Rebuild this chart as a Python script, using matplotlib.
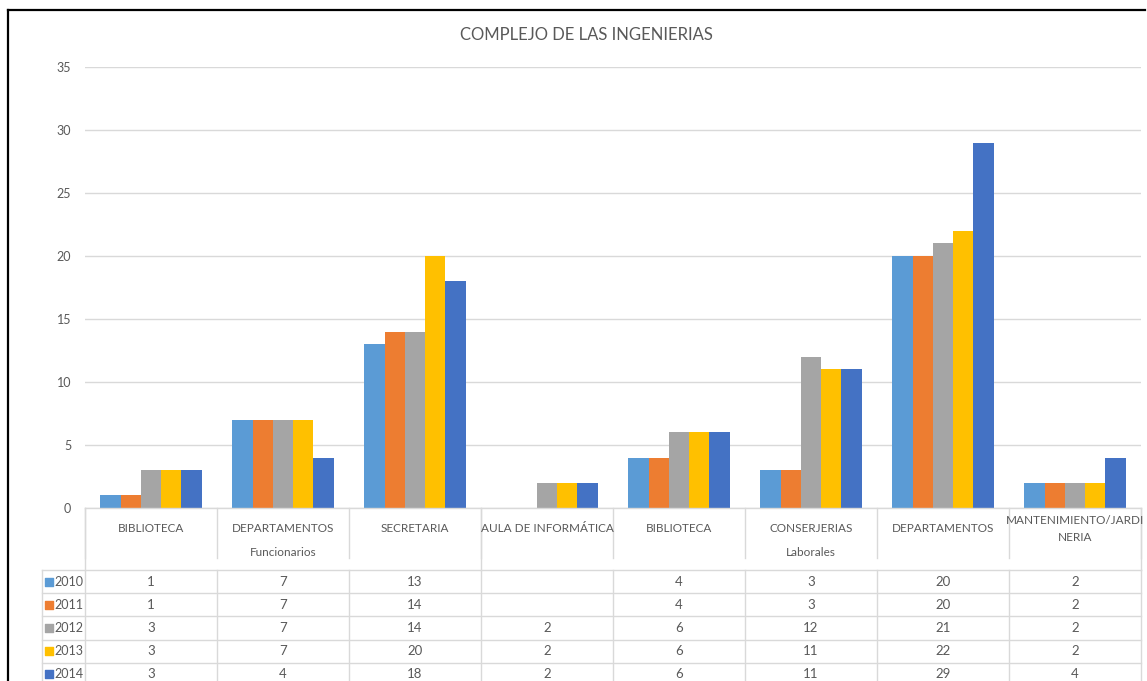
import matplotlib
matplotlib.use("Agg")
import matplotlib.pyplot as plt
import numpy as np

# data
categories = ["BIBLIOTECA", "DEPARTAMENTOS", "SECRETARIA", "AULA DE INFORMÁTICA",
              "BIBLIOTECA", "CONSERJERIAS", "DEPARTAMENTOS", "MANTENIMIENTO/JARDI\nNERIA"]
groups = ["Funcionarios", "Laborales"]
group_sizes = [3, 5]
years = ["2010", "2011", "2012", "2013", "2014"]
v2010 = [1, 7, 13, None, 4, 3, 20, 2]
v2011 = [1, 7, 14, None, 4, 3, 20, 2]
v2012 = [3, 7, 14, 2, 6, 12, 21, 2]
v2013 = [3, 7, 20, 2, 6, 11, 22, 2]
v2014 = [3, 4, 18, 2, 6, 11, 29, 4]
series = [v2010, v2011, v2012, v2013, v2014]
colors = ["#5B9BD5", "#ED7D31", "#A5A5A5", "#FFC000", "#4472C4"]

plt.rcParams['font.family'] = ['Lato', 'DejaVu Sans']
txt_color = "#595959"
line_color = "#D9D9D9"

W, H = 1147, 681
fig = plt.figure(figsize=(W / 100, H / 100), dpi=100)

# main bar area
ax = fig.add_axes([85 / W, (H - 508) / H, (1141 - 85) / W, (508 - 67) / H])
n = len(categories)
x = np.arange(n)
bw = 1 / 6.5
for i, (vals, col) in enumerate(zip(series, colors)):
    h = [np.nan if v is None else v for v in vals]
    ax.bar(x + (i - 2) * bw, h, width=bw, color=col, zorder=3)

ax.set_xlim(-0.5, n - 0.5)
ax.set_ylim(0, 35)
ax.set_yticks(range(0, 36, 5))
ax.tick_params(axis='y', length=0, labelsize=9, colors=txt_color, pad=10)
ax.set_xticks([])
ax.grid(axis='y', color=line_color, linewidth=1, zorder=0)
for s in ax.spines.values():
    s.set_visible(False)

fig.text(586 / W, 1 - 35 / H, "COMPLEJO DE LAS INGENIERIAS", ha='center', va='center',
         fontsize=12, color=txt_color)

# data table under the axis, y in pixels below the axis line
tax = fig.add_axes([85 / W, 0, (1141 - 85) / W, (H - 508) / H], sharex=ax)
tax.set_ylim(173, 0)
tax.axis('off')
leg_left = -0.5 - 43 / 132
row_top = 62
row_h = 23.2
kw = dict(color=line_color, linewidth=1, clip_on=False)

tax.plot([-0.5, n - 0.5], [0, 0], **kw)
# header separators
for k in range(n + 1):
    tax.plot([k - 0.5, k - 0.5], [0, 50], **kw)
# group boundaries run through the group row
bounds = [-0.5] + list(np.cumsum(group_sizes) - 0.5)
for b in bounds:
    tax.plot([b, b], [0, row_top], **kw)
# data rows
for r in range(len(years) + 1):
    yy = row_top + r * row_h
    tax.plot([leg_left, n - 0.5], [yy, yy], **kw)
for k in range(n + 1):
    tax.plot([k - 0.5, k - 0.5], [row_top, 180], **kw)
tax.plot([leg_left, leg_left], [row_top, 180], **kw)

for k, name in enumerate(categories):
    yc = 20 if "\n" not in name else 21
    tax.text(k, yc, name, ha='center', va='center', fontsize=8.5, color=txt_color,
             linespacing=1.6, clip_on=False)

start = -0.5
for g, size in zip(groups, group_sizes):
    tax.text(start + size / 2, 44, g, ha='center', va='center', fontsize=8.5,
             color=txt_color, clip_on=False)
    start += size

for r, (yr, vals, col) in enumerate(zip(years, series, colors)):
    yc = row_top + (r + 0.5) * row_h
    tax.scatter([leg_left + 0.05], [yc], marker='s', s=28, color=col, clip_on=False)
    tax.text(leg_left + 0.095, yc, yr, ha='left', va='center', fontsize=9,
             color=txt_color, clip_on=False)
    for k, v in enumerate(vals):
        if v is not None:
            tax.text(k, yc, str(v), ha='center', va='center', fontsize=9.5,
                     color=txt_color, clip_on=False)

# outer frame of the screenshot
fig.add_artist(plt.Line2D([8 / W, 1145 / W], [1 - 10 / H, 1 - 10 / H], color='black', linewidth=1.6))
fig.add_artist(plt.Line2D([8 / W, 8 / W], [1 - 10 / H, 0], color='black', linewidth=1.6))

fig.savefig("out.png", dpi=100)
